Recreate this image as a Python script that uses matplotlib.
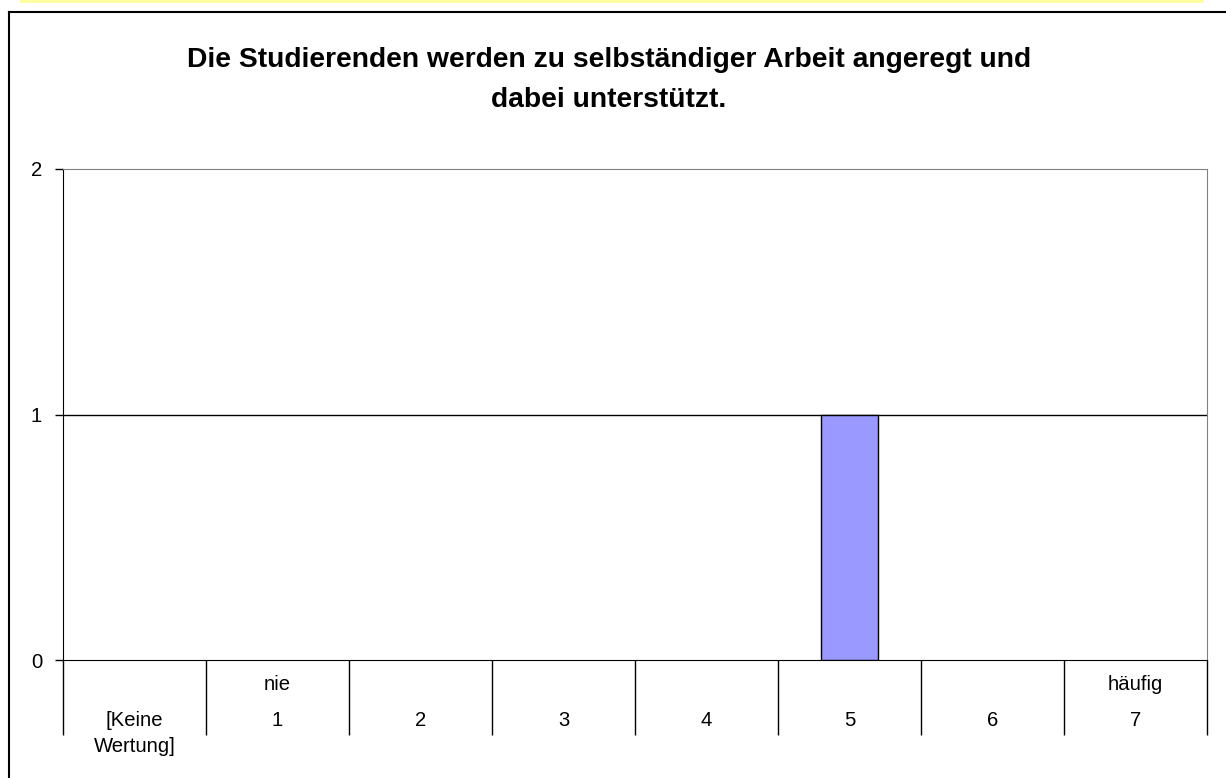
import matplotlib
matplotlib.use("Agg")
import matplotlib.pyplot as plt
from matplotlib.lines import Line2D
import numpy as np

plt.rcParams['font.family'] = ['Liberation Sans', 'DejaVu Sans']

categories = ["[Keine\nWertung]", "1", "2", "3", "4", "5", "6", "7"]
top_labels = ["", "nie", "", "", "", "", "", "häufig"]
counts = [0, 0, 0, 0, 0, 1, 0, 0]
yticks = [0, 1, 2]
title_lines = ["Die Studierenden werden zu selbständiger Arbeit angeregt und",
               "dabei unterstützt."]

W, H = 1226, 778
fig = plt.figure(figsize=(W / 100, H / 100), dpi=100)
ax = fig.add_axes([63 / W, 1 - 660 / H, (1207 - 63) / W, (660 - 169) / H])

x = np.arange(len(categories))
bars = ax.bar(x, counts, width=0.405, color='#9999FF', edgecolor='black', linewidth=1, zorder=3)
for b, c in zip(bars, counts):
    if c == 0:
        b.set_visible(False)

ax.set_xlim(-0.5, len(categories) - 0.5)
ax.set_ylim(0, 2)
ax.set_yticks(yticks)
ax.tick_params(axis='y', length=6, width=1, pad=9, labelsize=14.6, color='black')
for yv in yticks[1:-1]:
    ax.axhline(yv, color='black', linewidth=1, zorder=1)

# category dividers hanging below the axis
ax.set_xticks(np.arange(len(categories) + 1) - 0.5)
ax.set_xticklabels([])
ax.tick_params(axis='x', length=54, width=1, color='black', direction='out')

ax.spines['left'].set_color('black')
ax.spines['bottom'].set_color('black')
ax.spines['top'].set_color('#808080')
ax.spines['right'].set_color('#808080')

trans = ax.get_xaxis_transform()
for i, (lab, top) in enumerate(zip(categories, top_labels)):
    if top:
        ax.annotate(top, xy=(i, 0), xycoords=trans, xytext=(0, -18), textcoords='offset points',
                    ha='center', va='center', fontsize=14.6)
    lines = lab.split("\n")
    for j, ln in enumerate(lines):
        ax.annotate(ln, xy=(i, 0), xycoords=trans, xytext=(0, -43.5 - 18.7 * j), textcoords='offset points',
                    ha='center', va='center', fontsize=14.6)

fig.text(609 / W, 1 - 60 / H, title_lines[0], ha='center', va='center', fontsize=20.3, fontweight='bold')
fig.text(609 / W, 1 - 100 / H, title_lines[1], ha='center', va='center', fontsize=20.3, fontweight='bold')

# outer chart border and the yellow strip at the top
fig.add_artist(Line2D([8.5 / W, 8.5 / W], [0, 1 - 11.5 / H], color='black', linewidth=1.5, transform=fig.transFigure))
fig.add_artist(Line2D([8.5 / W, 1], [1 - 11.5 / H, 1 - 11.5 / H], color='black', linewidth=1.5, transform=fig.transFigure))
fig.add_artist(Line2D([21 / W, 1202 / W], [1 - 0.5 / H, 1 - 0.5 / H], color='#FFFF99', linewidth=2, transform=fig.transFigure))

fig.savefig("out.png", dpi=100)
